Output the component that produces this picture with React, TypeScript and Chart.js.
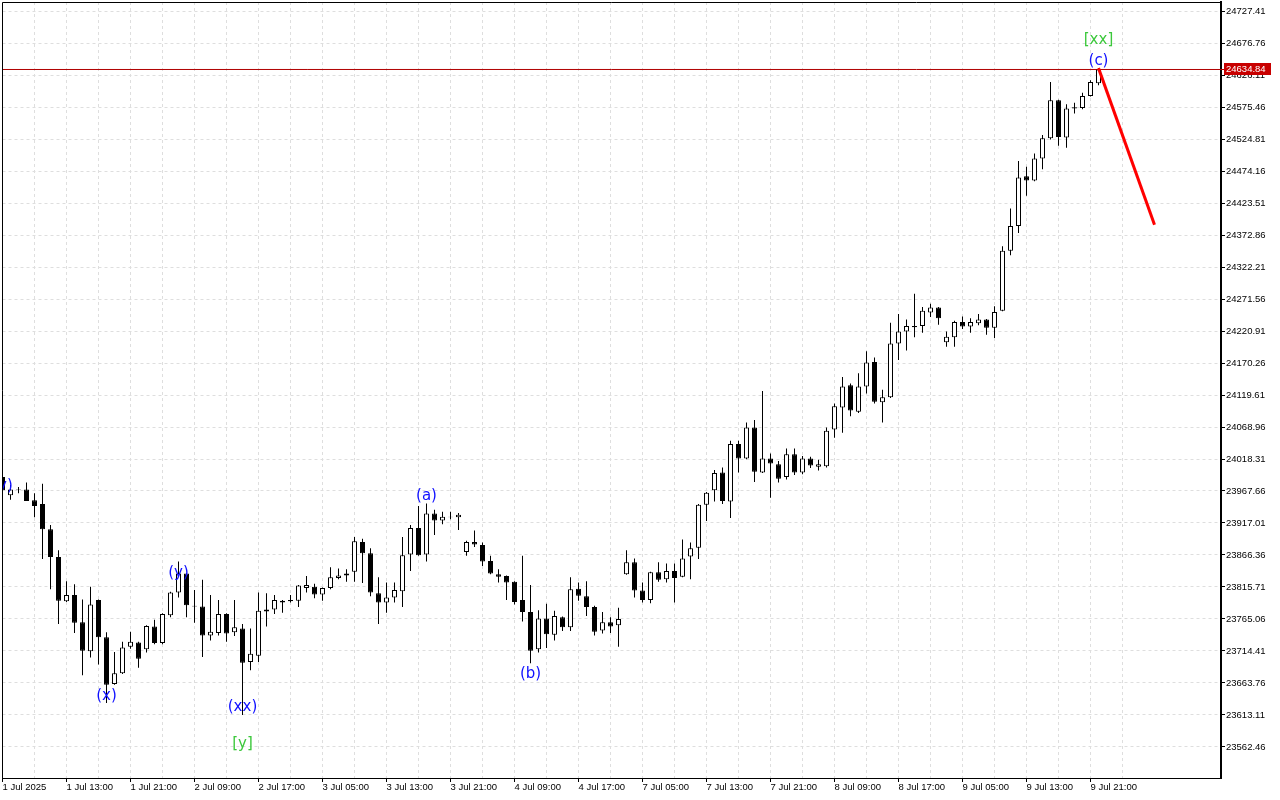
import React, { useEffect, useRef } from "react";
import { Chart, registerables } from "chart.js";

Chart.register(...registerables);

// ---- Candle data (hourly bars, index = bar slot) ----
const opens = [
  23990, 23961, 23970, 23970, 23953, 23947, 23907, 23863, 23793, 23803,
  23760, 23714, 23795, 23736, 23662, 23679, 23721, 23728, 23717, 23753,
  23727, 23771, 23807, 23837, 23786, 23785, 23739, 23743, 23773, 23744,
  23750, 23697, 23707, 23777, 23780, 23791, 23793, 23794, 23814, 23816,
  23804, 23814, 23830, 23834, 23840, 23887, 23869, 23806, 23791, 23799,
  23809, 23867, 23909, 23867, 23932, 23921, 23927, 23926, 23871, 23887,
  23882, 23857, 23836, 23833, 23824, 23795, 23776, 23717, 23766, 23740,
  23768, 23752, 23813, 23801, 23784, 23747, 23760, 23755, 23836, 23855,
  23810, 23795, 23839, 23828, 23841, 23832, 23864, 23878, 23946, 23969,
  23997, 23951, 24042, 24019, 24068, 23997, 24019, 24010, 23990, 24026,
  23997, 24019, 24006, 24007, 24065, 24100, 24135, 24093, 24133, 24172,
  24108, 24116, 24201, 24220, 24229, 24229, 24250, 24258, 24203, 24211,
  24235, 24228, 24233, 24239, 24226, 24253, 24348, 24387, 24466, 24459,
  24494, 24526, 24586, 24527, 24573, 24574, 24593, 24613,
];
const highs = [
  23995, 23977, 23974, 23981, 23964, 23979, 23914, 23874, 23825, 23820,
  23796, 23816, 23796, 23744, 23713, 23729, 23745, 23729, 23755, 23764,
  23774, 23808, 23856, 23838, 23811, 23827, 23803, 23795, 23774, 23795,
  23757, 23750, 23807, 23806, 23803, 23795, 23803, 23819, 23833, 23821,
  23815, 23847, 23845, 23844, 23895, 23892, 23877, 23831, 23823, 23823,
  23895, 23914, 23944, 23948, 23938, 23935, 23935, 23933, 23889, 23905,
  23886, 23865, 23844, 23834, 23825, 23865, 23819, 23779, 23789, 23778,
  23769, 23831, 23823, 23825, 23786, 23776, 23768, 23783, 23874, 23861,
  23823, 23840, 23855, 23853, 23853, 23891, 23886, 23947, 23966, 24001,
  24005, 24047, 24047, 24076, 24080, 24126, 24027, 24015, 24035, 24035,
  24023, 24022, 24017, 24068, 24106, 24148, 24138, 24154, 24189, 24179,
  24128, 24234, 24248, 24239, 24280, 24259, 24264, 24259, 24220, 24237,
  24244, 24241, 24248, 24240, 24260, 24355, 24415, 24490, 24481, 24502,
  24531, 24615, 24587, 24580, 24582, 24598, 24618, 24637,
];
const lows = [
  23966, 23954, 23964, 23952, 23926, 23860, 23812, 23757, 23792, 23743,
  23676, 23704, 23693, 23632, 23661, 23678, 23718, 23688, 23712, 23725,
  23725, 23768, 23799, 23768, 23759, 23705, 23731, 23739, 23729, 23738,
  23613, 23684, 23697, 23753, 23773, 23775, 23791, 23784, 23807, 23798,
  23794, 23812, 23828, 23824, 23824, 23822, 23801, 23757, 23775, 23791,
  23784, 23841, 23865, 23856, 23898, 23915, 23923, 23906, 23865, 23879,
  23849, 23836, 23823, 23795, 23788, 23761, 23695, 23712, 23719, 23731,
  23746, 23746, 23794, 23770, 23739, 23742, 23743, 23721, 23835, 23799,
  23791, 23790, 23824, 23823, 23791, 23831, 23828, 23860, 23920, 23951,
  23947, 23925, 23997, 24018, 23982, 23996, 23957, 23981, 23986, 23993,
  23994, 24004, 24000, 24005, 24052, 24060, 24086, 24091, 24122, 24106,
  24076, 24115, 24175, 24190, 24211, 24218, 24243, 24231, 24196, 24196,
  24224, 24218, 24230, 24215, 24210, 24252, 24341, 24376, 24435, 24458,
  24477, 24524, 24514, 24511, 24565, 24572, 24592, 24610,
];
const closes = [
  23969, 23970, 23971, 23952, 23944, 23907, 23863, 23794, 23803, 23759,
  23715, 23788, 23736, 23661, 23679, 23720, 23729, 23702, 23754, 23727,
  23773, 23807, 23837, 23787, 23785, 23739, 23745, 23773, 23742, 23752,
  23696, 23710, 23778, 23780, 23795, 23794, 23795, 23818, 23819, 23804,
  23814, 23831, 23834, 23837, 23888, 23869, 23807, 23791, 23799, 23811,
  23866, 23909, 23866, 23932, 23921, 23927, 23926, 23930, 23887, 23883,
  23856, 23837, 23832, 23823, 23792, 23776, 23715, 23766, 23741, 23770,
  23752, 23812, 23802, 23784, 23745, 23760, 23753, 23765, 23855, 23810,
  23795, 23839, 23827, 23841, 23830, 23861, 23877, 23946, 23965, 23996,
  23952, 24042, 24019, 24068, 23998, 24019, 24011, 23987, 24026, 23997,
  24019, 24008, 24010, 24063, 24102, 24133, 24095, 24133, 24171, 24109,
  24116, 24201, 24220, 24229, 24227, 24253, 24258, 24241, 24212, 24235,
  24228, 24235, 24239, 24226, 24251, 24348, 24387, 24464, 24459, 24494,
  24526, 24586, 24528, 24573, 24575, 24593, 24615, 24634.84,
];

// Current bid price line
const bidPrice = 24634.84;

// Forecast (red) line: bar slot, price
const forecastBars = [137, 144];
const forecastPrices = [24637, 24389];

// Wave labels
const waveTexts = ["(y)", "(x)", "(y)", "(xx)", "[y]", "(a)", "(b)", "(c)", "[xx]"];
const waveBars = [0, 13, 22, 30, 30, 53, 66, 137, 137];
const wavePrices = [23975, 23643, 23837, 23625, 23567, 23960, 23678, 24648, 24681];
const waveColors = ["#1010ff", "#1010ff", "#1010ff", "#1010ff", "#3cc83c", "#1010ff", "#1010ff", "#1010ff", "#3cc83c"];

// Axis labels
const timeLabels = [
  "1 Jul 2025", "1 Jul 13:00", "1 Jul 21:00", "2 Jul 09:00", "2 Jul 17:00",
  "3 Jul 05:00", "3 Jul 13:00", "3 Jul 21:00", "4 Jul 09:00", "4 Jul 17:00",
  "7 Jul 05:00", "7 Jul 13:00", "7 Jul 21:00", "8 Jul 09:00", "8 Jul 17:00",
  "9 Jul 05:00", "9 Jul 13:00", "9 Jul 21:00",
];
const priceTicks = [
  24727.41, 24676.76, 24626.11, 24575.46, 24524.81, 24474.16, 24423.51, 24372.86,
  24322.21, 24271.56, 24220.91, 24170.26, 24119.61, 24068.96, 24018.31, 23967.66,
  23917.01, 23866.36, 23815.71, 23765.06, 23714.41, 23663.76, 23613.11, 23562.46,
];

const BARS_PER_LABEL = 8;
const X_MAX = 152.3125;
const Y_MIN = 23513.39;
const Y_MAX = 24741.66;
const AXIS_FONT = { family: "'Liberation Sans', Arial, sans-serif", size: 9.5 };

const overlayPlugin = {
  id: "overlay",
  afterDatasetsDraw(chart: any) {
    const { ctx, chartArea: a, scales } = chart;
    const x = scales.x;
    const y = scales.y;
    ctx.save();
    ctx.beginPath();
    ctx.rect(a.left, a.top, a.right - a.left, a.bottom - a.top);
    ctx.clip();
    ctx.font = "15px 'DejaVu Sans', sans-serif";
    ctx.textAlign = "center";
    ctx.textBaseline = "middle";
    waveTexts.forEach((t, i) => {
      ctx.fillStyle = waveColors[i];
      ctx.fillText(t, x.getPixelForValue(waveBars[i]), y.getPixelForValue(wavePrices[i]));
    });
    ctx.restore();
  },
  afterDraw(chart: any) {
    const { ctx, chartArea: a, scales } = chart;
    const y = scales.y;
    ctx.save();
    // frame (top + left)
    ctx.strokeStyle = "#000";
    ctx.lineWidth = 1;
    ctx.beginPath();
    ctx.moveTo(Math.floor(a.left) + 0.5, a.bottom);
    ctx.lineTo(Math.floor(a.left) + 0.5, Math.floor(a.top) + 0.5);
    ctx.lineTo(a.right, Math.floor(a.top) + 0.5);
    ctx.stroke();
    // bid price tag
    const py = y.getPixelForValue(bidPrice);
    ctx.strokeStyle = "#b00000";
    ctx.beginPath();
    ctx.moveTo(a.right, Math.floor(py) + 0.5);
    ctx.lineTo(a.right + 4, Math.floor(py) + 0.5);
    ctx.stroke();
    ctx.fillStyle = "#c80000";
    ctx.fillRect(a.right + 3, Math.round(py) - 6, 47, 12);
    ctx.fillStyle = "#ffffff";
    ctx.font = "9.5px 'Liberation Sans', Arial, sans-serif";
    ctx.textAlign = "left";
    ctx.textBaseline = "middle";
    ctx.fillText(bidPrice.toFixed(2), a.right + 5, Math.round(py) + 0.5);
    ctx.restore();
  },
};

export default function App() {
  const ref = useRef<HTMLCanvasElement | null>(null);

  useEffect(() => {
    document.body.style.margin = "0";
    const canvas = ref.current;
    if (!canvas) return;

    const bodyData = opens.map((o, i) => ({ x: i, y: [Math.min(o, closes[i]), Math.max(o, closes[i])] }));
    const bodyColors = opens.map((o, i) => (closes[i] >= o ? "#ffffff" : "#000000"));
    const wickData = lows.map((l, i) => ({ x: i, y: [l, highs[i]] }));
    const forecastData = forecastBars.map((b, i) => ({ x: b, y: forecastPrices[i] }));
    const bidData = [
      { x: 0, y: bidPrice },
      { x: X_MAX, y: bidPrice },
    ];
    const xGridTicks: number[] = [];
    timeLabels.forEach((_, k) => {
      xGridTicks.push(k * BARS_PER_LABEL, k * BARS_PER_LABEL + BARS_PER_LABEL / 2);
    });

    const chart = new Chart(canvas, {
      type: "bar",
      data: {
        datasets: [
          {
            type: "line",
            data: forecastData,
            borderColor: "#ff0000",
            borderWidth: 3,
            pointRadius: 0,
            order: 0,
          } as any,
          {
            type: "bar",
            data: bodyData,
            backgroundColor: bodyColors,
            borderColor: "#000000",
            borderWidth: 1,
            borderSkipped: false,
            barThickness: 5,
            grouped: false,
            inflateAmount: 0,
            order: 1,
          } as any,
          {
            type: "bar",
            data: wickData,
            backgroundColor: "#000000",
            borderWidth: 0,
            barThickness: 1,
            grouped: false,
            inflateAmount: 0,
            order: 2,
          } as any,
          {
            type: "line",
            data: bidData,
            borderColor: "#b00000",
            borderWidth: 1,
            pointRadius: 0,
            order: 3,
          } as any,
        ],
      },
      options: {
        responsive: false,
        animation: false,
        devicePixelRatio: 1,
        events: [],
        layout: { padding: { left: 2.5, top: 2, right: 0, bottom: 0 } },
        plugins: { legend: { display: false }, tooltip: { enabled: false } },
        scales: {
          x: {
            type: "linear",
            min: 0,
            max: X_MAX,
            offset: false,
            afterFit: (s: any) => {
              s.height = 22;
              s.paddingLeft = 0;
              s.paddingRight = 0;
            },
            afterBuildTicks: (s: any) => {
              s.ticks = xGridTicks.map((v) => ({ value: v }));
            },
            grid: {
              offset: false,
              color: "#dedede",
              lineWidth: 1,
              tickLength: 4,
              tickColor: (c: any) => (c.tick && c.tick.value % BARS_PER_LABEL === 0 ? "#000" : "rgba(0,0,0,0)"),
            },
            border: { display: true, color: "#000", width: 1, dash: [3, 3] },
            ticks: {
              autoSkip: false,
              maxRotation: 0,
              minRotation: 0,
              align: "start",
              padding: 0,
              color: "#000",
              font: AXIS_FONT,
              callback: (v: any) =>
                Number(v) % BARS_PER_LABEL === 0 ? timeLabels[Number(v) / BARS_PER_LABEL] ?? "" : "",
            },
          },
          y: {
            type: "linear",
            position: "right",
            min: Y_MIN,
            max: Y_MAX,
            afterFit: (s: any) => {
              s.width = 59;
              s.paddingTop = 0;
              s.paddingBottom = 0;
            },
            afterBuildTicks: (s: any) => {
              s.ticks = priceTicks.map((v) => ({ value: v }));
            },
            grid: {
              color: "#dedede",
              lineWidth: 1,
              tickLength: 4,
              tickColor: "#000",
            },
            border: { display: true, color: "#000", width: 2, dash: [3, 3] },
            ticks: {
              autoSkip: false,
              padding: 1,
              color: "#000",
              font: AXIS_FONT,
              callback: (v: any) => Number(v).toFixed(2),
            },
          },
        },
      } as any,
      plugins: [overlayPlugin],
    });

    return () => chart.destroy();
  }, []);

  return (
    <div style={{ width: 1280, height: 800, background: "#fff" }}>
      <canvas ref={ref} width={1280} height={800} style={{ display: "block" }} />
    </div>
  );
}
